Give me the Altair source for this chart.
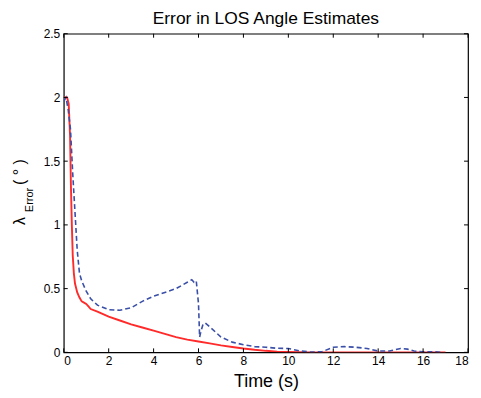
import altair as alt
import pandas as pd

red_t = [0, 0.15, 0.22, 0.28, 0.32, 0.36, 0.4, 0.45, 0.5, 0.6, 0.7, 0.8, 0.9, 1.0, 1.1, 1.2, 1.5, 2, 2.5, 3, 3.5, 4, 4.5, 5, 5.5, 6, 6.5, 7, 7.5, 8, 8.5, 9, 9.5, 10, 10.5, 11, 12, 13, 14, 15, 16, 17]
red_v = [2.0, 2.0, 1.95, 1.7, 1.3, 1.0, 0.76, 0.62, 0.54, 0.47, 0.43, 0.40, 0.39, 0.38, 0.36, 0.34, 0.32, 0.28, 0.25, 0.22, 0.195, 0.17, 0.145, 0.12, 0.1, 0.085, 0.07, 0.055, 0.042, 0.03, 0.02, 0.012, 0.006, 0.003, 0.001, 0.0, 0.0, 0.0, 0.0, 0.0, 0.0, 0.0]

blue_t = [0, 0.1, 0.2, 0.3, 0.4, 0.5, 0.6, 0.7, 0.8, 1.0, 1.2, 1.5, 2.0, 2.5, 3.0, 3.5, 4.0, 4.5, 5.0, 5.5, 5.7, 5.8, 5.9, 6.0, 6.05, 6.1, 6.2, 6.3, 6.5, 7.0, 7.5, 8.0, 8.5, 9.0, 9.5, 10.0, 10.5, 11.0, 11.5, 12.0, 12.5, 13.0, 13.5, 14.0, 14.5, 15.0, 15.3, 15.6, 16.0, 16.5, 16.8]
blue_v = [1.97, 2.0, 1.9, 1.75, 1.4, 1.1, 0.8, 0.62, 0.56, 0.48, 0.42, 0.37, 0.335, 0.33, 0.35, 0.4, 0.44, 0.47, 0.5, 0.55, 0.57, 0.55, 0.56, 0.38, 0.12, 0.16, 0.22, 0.23, 0.2, 0.12, 0.08, 0.06, 0.045, 0.04, 0.032, 0.03, 0.012, 0.002, 0.005, 0.04, 0.045, 0.04, 0.03, 0.01, 0.01, 0.03, 0.025, 0.01, 0.005, 0.005, 0.0]

x_ticks = [0, 2, 4, 6, 8, 10, 12, 14, 16, 18]
y_ticks = [0, 0.5, 1, 1.5, 2, 2.5]

W, H = 406, 320
FONT = "Liberation Sans"

red = pd.DataFrame({"t": red_t, "v": red_v})
blue = pd.DataFrame({"t": blue_t, "v": blue_v})
xt = pd.DataFrame({"x": x_ticks})
yt = pd.DataFrame({"y": y_ticks})

xs = alt.Scale(domain=[0, 18], nice=False)
ys = alt.Scale(domain=[0, 2.5], nice=False)

xaxis = alt.Axis(values=x_ticks, ticks=False, grid=False, domain=False, labelFont=FONT,
                 labelFontSize=12, labelColor="black", labelPadding=3,
                 title="Time (s)", titleFont=FONT, titleFontSize=18, titleFontWeight="normal",
                 titleColor="black", titlePadding=6, labelExpr="datum.value")
yaxis = alt.Axis(values=y_ticks, ticks=False, grid=False, domain=False, labelFont=FONT,
                 labelFontSize=12, labelColor="black", labelPadding=4, title=None,
                 labelFlush=False, labelExpr="datum.value")

red_line = alt.Chart(red).mark_line(color="#ff2a2a", strokeWidth=1.9, clip=True).encode(
    x=alt.X("t:Q", scale=xs, axis=xaxis), y=alt.Y("v:Q", scale=ys, axis=yaxis))
blue_line = alt.Chart(blue).mark_line(color="#3a4fa8", strokeWidth=1.6, strokeDash=[5, 3], clip=True).encode(
    x=alt.X("t:Q", scale=xs), y=alt.Y("v:Q", scale=ys))

tb = alt.Chart(xt).mark_rule(color="black", strokeWidth=1).encode(
    x=alt.X("x:Q", scale=xs), y=alt.value(H), y2=alt.value(H - 4))
tt = alt.Chart(xt).mark_rule(color="black", strokeWidth=1).encode(
    x=alt.X("x:Q", scale=xs), y=alt.value(0), y2=alt.value(4))
tl = alt.Chart(yt).mark_rule(color="black", strokeWidth=1).encode(
    y=alt.Y("y:Q", scale=ys), x=alt.value(0), x2=alt.value(4))
tr = alt.Chart(yt).mark_rule(color="black", strokeWidth=1).encode(
    y=alt.Y("y:Q", scale=ys), x=alt.value(W), x2=alt.value(W - 4))

ytitle_lam = alt.Chart(pd.DataFrame({"s": ["λ"]})).mark_text(angle=270, font=FONT, fontSize=16, color="black").encode(
    text="s:N", x=alt.value(-44), y=alt.value(188))
ytitle_sub = alt.Chart(pd.DataFrame({"s": ["Error"]})).mark_text(angle=270, font=FONT, fontSize=11, color="black").encode(
    text="s:N", x=alt.value(-34), y=alt.value(167))
ytitle_deg = alt.Chart(pd.DataFrame({"s": ["( ° )"]})).mark_text(angle=270, font=FONT, fontSize=16, color="black").encode(
    text="s:N", x=alt.value(-44), y=alt.value(139))

chart = alt.layer(red_line, blue_line, tb, tt, tl, tr, ytitle_lam, ytitle_sub, ytitle_deg).properties(
    width=W, height=H,
    title=alt.TitleParams("Error in LOS Angle Estimates", font=FONT, fontSize=17.5, fontWeight="normal",
                          color="black", offset=0),
    autosize=alt.AutoSizeParams(type="none"),
    padding={"left": 56, "top": 25, "right": 5, "bottom": 40},
    background="white",
).configure_view(stroke="black", strokeWidth=1.2)

chart.save("out.html", embed_options={"renderer": "svg", "actions": False})
